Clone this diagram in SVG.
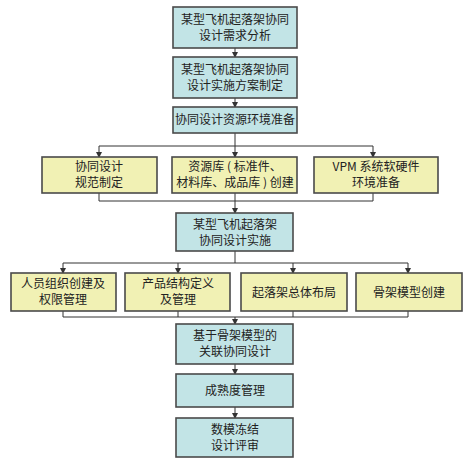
<svg xmlns="http://www.w3.org/2000/svg" width="472" height="461" viewBox="0 0 472 461">
<style>
.b{fill:#c2e4e6;stroke:#4a4a4a;stroke-width:1.6}
.y{fill:#f1f1b4;stroke:#4a4a4a;stroke-width:1.6}
text{font-family:"Noto Sans CJK SC","Liberation Sans",sans-serif;font-size:12px;fill:#222;text-anchor:middle}
.c line,.c polyline{stroke:#333;stroke-width:1;fill:none}
</style>
<defs><marker id="a" markerWidth="6" markerHeight="6" refX="5" refY="3" orient="auto" markerUnits="userSpaceOnUse"><path d="M0,0 L6,3 L0,6 z" fill="#333"/></marker></defs>
<rect width="472" height="461" fill="#fff"/>
<g class="c">
<line x1="235" y1="48" x2="235" y2="57" marker-end="url(#a)"/>
<line x1="235" y1="98" x2="235" y2="107" marker-end="url(#a)"/>
<line x1="235" y1="133" x2="235" y2="146"/>
<line x1="99" y1="146" x2="373" y2="146"/>
<line x1="99" y1="146" x2="99" y2="157" marker-end="url(#a)"/>
<line x1="235" y1="146" x2="235" y2="157" marker-end="url(#a)"/>
<line x1="373" y1="146" x2="373" y2="157" marker-end="url(#a)"/>
<polyline points="99,193 99,201 373,201 373,193"/>
<line x1="235" y1="193" x2="235" y2="213" marker-end="url(#a)"/>
<line x1="235" y1="251" x2="235" y2="263"/>
<line x1="63" y1="263" x2="408" y2="263"/>
<line x1="63" y1="263" x2="63" y2="273" marker-end="url(#a)"/>
<line x1="178" y1="263" x2="178" y2="273" marker-end="url(#a)"/>
<line x1="293" y1="263" x2="293" y2="273" marker-end="url(#a)"/>
<line x1="408" y1="263" x2="408" y2="273" marker-end="url(#a)"/>
<polyline points="63,311 63,317 408,317 408,311"/>
<line x1="178" y1="311" x2="178" y2="317"/>
<line x1="293" y1="311" x2="293" y2="317"/>
<line x1="235" y1="317" x2="235" y2="324" marker-end="url(#a)"/>
<line x1="235" y1="364" x2="235" y2="374" marker-end="url(#a)"/>
<line x1="235" y1="407" x2="235" y2="418" marker-end="url(#a)"/>
</g>
<g id="n1"><rect class="b" x="173" y="7" width="124" height="41"/><text x="235" y="24">某型飞机起落架协同</text><text x="235" y="40">设计需求分析</text></g>
<g id="n2"><rect class="b" x="173" y="57" width="124" height="41"/><text x="235" y="74">某型飞机起落架协同</text><text x="235" y="90">设计实施方案制定</text></g>
<g id="n3"><rect class="b" x="173" y="107" width="124" height="26"/><text x="235" y="124">协同设计资源环境准备</text></g>
<g id="n4"><rect class="y" x="42" y="157" width="115" height="36"/><text x="99" y="171">协同设计</text><text x="99" y="187">规范制定</text></g>
<g id="n5"><rect class="y" x="172" y="157" width="125" height="36"/><text x="235" y="171">资源库 ( 标准件、</text><text x="235" y="187">材料库、成品库 ) 创建</text></g>
<g id="n6"><rect class="y" x="314" y="157" width="124" height="36"/><text x="376" y="171">VPM 系统软硬件</text><text x="376" y="187">环境准备</text></g>
<g id="n7"><rect class="b" x="176" y="213" width="117" height="38"/><text x="235" y="229">某型飞机起落架</text><text x="235" y="245">协同设计实施</text></g>
<g id="n8"><rect class="y" x="11" y="273" width="105" height="38"/><text x="63" y="288">人员组织创建及</text><text x="63" y="304">权限管理</text></g>
<g id="n9"><rect class="y" x="125" y="273" width="105" height="38"/><text x="178" y="288">产品结构定义</text><text x="178" y="304">及管理</text></g>
<g id="n10"><rect class="y" x="241" y="273" width="106" height="38"/><text x="294" y="297">起落架总体布局</text></g>
<g id="n11"><rect class="y" x="356" y="273" width="106" height="38"/><text x="409" y="297">骨架模型创建</text></g>
<g id="n12"><rect class="b" x="176" y="324" width="117" height="40"/><text x="235" y="340">基于骨架模型的</text><text x="235" y="356">关联协同设计</text></g>
<g id="n13"><rect class="b" x="176" y="374" width="117" height="33"/><text x="235" y="395">成熟度管理</text></g>
<g id="n14"><rect class="b" x="176" y="418" width="117" height="39"/><text x="235" y="434">数模冻结</text><text x="235" y="450">设计评审</text></g>
</svg>
